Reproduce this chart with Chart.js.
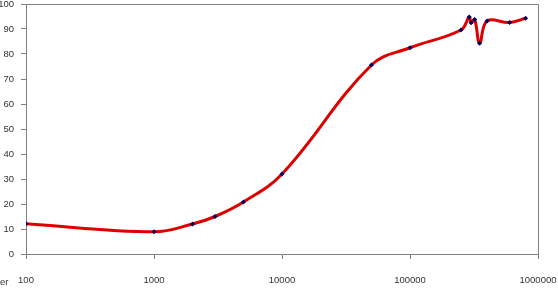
<!DOCTYPE html>
<html>
<head>
<meta charset="utf-8">
<script src="https://cdn.jsdelivr.net/npm/chart.js@4"></script>
<style>
  html, body { margin: 0; padding: 0; background: #fff; }
  canvas { display: block; }
</style>
</head>
<body>
<canvas id="chart" width="558" height="288"></canvas>
<script>
// Data
const xValues = [100, 1000, 2000, 3000, 5000, 10000, 50000, 100000, 250000, 290000, 300000, 320000, 350000, 400000, 600000, 800000];
const yValues = [12.1, 8.9, 12, 15, 20.8, 32, 75.6, 82.5, 89.6, 94.8, 92.5, 93.8, 84.3, 93.2, 92.6, 94.3];
const xTicks = [100, 1000, 10000, 100000, 1000000];
const yTicks = [0, 10, 20, 30, 40, 50, 60, 70, 80, 90, 100];
const cornerLabel = 'er';

const axisColor = '#808080';
const textColor = '#333333';
const font = { family: 'Liberation Sans, Arial, sans-serif', size: 9.5 };

// Box round the plot area plus the cut-off label in the corner
const frame = {
    id: 'frame',
    afterDraw(chart) {
        const { ctx, chartArea: a } = chart;
        ctx.save();
        ctx.strokeStyle = axisColor;
        ctx.lineWidth = 1;
        ctx.beginPath();
        ctx.moveTo(a.left, a.top + 0.5);
        ctx.lineTo(a.right + 0.5, a.top + 0.5);
        ctx.lineTo(a.right + 0.5, a.bottom);
        ctx.stroke();
        ctx.fillStyle = textColor;
        ctx.font = font.size + 'px ' + font.family;
        ctx.textBaseline = 'middle';
        ctx.fillText(cornerLabel, 0, 282);
        ctx.restore();
    }
};

new Chart(document.getElementById('chart'), {
    type: 'line',
    data: {
        datasets: [{
            data: xValues.map((x, i) => ({ x, y: yValues[i] })),
            borderColor: '#dd0000',
            borderWidth: 3,
            tension: 0.4,
            pointStyle: 'rectRot',
            pointRadius: 2.5,
            pointBackgroundColor: '#000066',
            pointBorderColor: '#000066',
            pointBorderWidth: 0
        }]
    },
    options: {
        responsive: false,
        animation: false,
        devicePixelRatio: 1,
        layout: { padding: { top: 4, right: 20, left: 0, bottom: 0 } },
        plugins: { legend: { display: false }, tooltip: { enabled: false } },
        scales: {
            x: {
                type: 'logarithmic',
                min: 100,
                max: 1000000,
                afterBuildTicks: s => { s.ticks = xTicks.map(v => ({ value: v })); },
                afterFit: s => { s.height = 34; s.paddingLeft = 0; s.paddingRight = 0; },
                grid: { drawOnChartArea: false, color: axisColor, tickLength: 5 },
                border: { color: axisColor },
                ticks: { color: textColor, font, padding: 16, maxRotation: 0, autoSkip: false, callback: v => String(v) }
            },
            y: {
                min: 0,
                max: 100,
                afterBuildTicks: s => { s.ticks = yTicks.map(v => ({ value: v })); },
                afterFit: s => { s.width = 26; s.paddingTop = 0; s.paddingBottom = 0; },
                grid: { drawOnChartArea: false, color: axisColor, tickLength: 5 },
                border: { color: axisColor },
                ticks: { color: textColor, font, padding: 7, autoSkip: false }
            }
        }
    },
    plugins: [frame]
});
</script>
</body>
</html>
